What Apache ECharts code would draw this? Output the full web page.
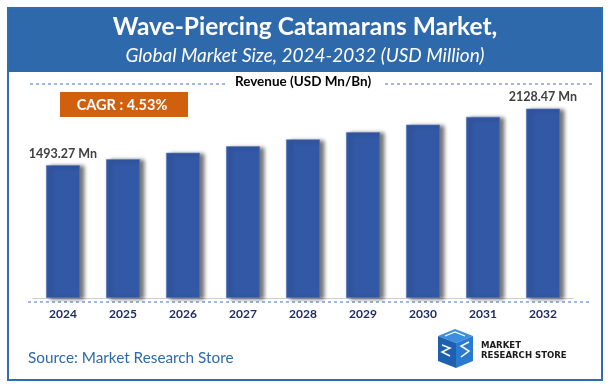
<!DOCTYPE html>
<html>
<head>
<meta charset="utf-8">
<script src="https://cdn.jsdelivr.net/npm/echarts@6/dist/echarts.min.js"></script>
<style>
html,body{margin:0;padding:0;background:#fff;}
#c{width:610px;height:390px;}
</style>
</head>
<body>
<div id="c"></div>
<script>
var years = ['2024','2025','2026','2027','2028','2029','2030','2031','2032'];
var revenue = [1493.27, 1561, 1632, 1705, 1783, 1864, 1948, 2036, 2128.47];
var titleText = 'Wave-Piercing Catamarans Market,';
var subtitleText = 'Global Market Size, 2024-2032 (USD Million)';
var axisTitle = 'Revenue (USD Mn/Bn)';
var cagrText = 'CAGR : 4.53%';
var sourceText = 'Source: Market Research Store';

var FONT = 'Lato, "Open Sans", sans-serif';
var chart = echarts.init(document.getElementById('c'));

var barData = revenue.map(function (v, i) {
  var item = { value: v };
  if (i === 0 || i === revenue.length - 1) {
    item.label = {
      show: true, position: 'top', distance: 5,
      formatter: function (p) { return p.value.toFixed(2) + ' Mn'; },
      color: '#404040', fontWeight: 'bold', fontSize: 12.5, fontFamily: FONT
    };
  }
  return item;
});

chart.setOption({
  animation: false,
  grid: { left: 33, right: 37, top: 80, bottom: 92 },
  xAxis: {
    type: 'category', data: years,
    axisLine: { show: true, lineStyle: { color: '#D0D0D0', width: 1 } },
    axisTick: { show: false },
    axisLabel: { color: '#1F2C66', fontWeight: 'bold', fontSize: 12, fontFamily: FONT, margin: 10 }
  },
  yAxis: { type: 'value', min: 0, max: 2450, show: false, splitLine: { show: false } },
  series: [{
    type: 'bar', data: barData, barWidth: 34,
    itemStyle: {
      color: '#3358A5',
      borderColor: '#5B7EC0', borderWidth: 0.6,
      shadowColor: 'rgba(0,0,0,0.55)', shadowBlur: 4, shadowOffsetX: 4, shadowOffsetY: 1
    }
  }],
  graphic: [
    { type: 'rect', shape: { x: 8, y: 8, width: 594, height: 372 }, style: { fill: 'none', stroke: '#2E6DB4', lineWidth: 2 }, z: 10 },
    { type: 'rect', shape: { x: 8, y: 8, width: 594, height: 64 }, style: { fill: '#2E6AAB' }, z: 9 },
    { type: 'text', x: 305, y: 27, style: { text: titleText, fill: '#fff', font: 'bold 24.5px ' + FONT, textAlign: 'center', textVerticalAlign: 'middle' }, z: 11 },
    { type: 'text', x: 305, y: 56, style: { text: subtitleText, fill: '#fff', font: 'italic 19px ' + FONT, textAlign: 'center', textVerticalAlign: 'middle' }, z: 11 },
    { type: 'line', shape: { x1: 30, y1: 84, x2: 225, y2: 84 }, style: { stroke: '#4472C4', lineWidth: 1, lineDash: [3, 3] } },
    { type: 'line', shape: { x1: 385, y1: 84, x2: 595, y2: 84 }, style: { stroke: '#4472C4', lineWidth: 1, lineDash: [3, 3] } },
    { type: 'text', x: 303, y: 82, style: { text: axisTitle, fill: '#000', font: 'bold 13.5px ' + FONT, textAlign: 'center', textVerticalAlign: 'middle' } },
    { type: 'rect', shape: { x: 60, y: 92, width: 128, height: 25 }, style: { fill: '#D0600E' } },
    { type: 'text', x: 122, y: 105, style: { text: cagrText, fill: '#fff', font: 'bold 14.5px ' + FONT, textAlign: 'center', textVerticalAlign: 'middle' } },
    { type: 'line', shape: { x1: 28, y1: 302, x2: 590, y2: 302 }, style: { stroke: '#4472C4', lineWidth: 1, lineDash: [3, 3] } },
    { type: 'text', x: 28, y: 358, style: { text: sourceText, fill: '#2E6AAB', font: '15.3px ' + FONT, textAlign: 'left', textVerticalAlign: 'middle' } },
    { type: 'polygon', shape: { points: [[438,336],[455,329],[473,336],[456,343]] }, style: { fill: '#3C8FE0' } },
    { type: 'polygon', shape: { points: [[438,336],[456,343],[456,368],[438,361]] }, style: { fill: '#1F5FB0' } },
    { type: 'polygon', shape: { points: [[456,343],[473,336],[473,361],[456,368]] }, style: { fill: '#2A7AD0' } },
    { type: 'polyline', shape: { points: [[442,345],[450,348],[442,352],[450,356]] }, style: { stroke: '#fff', lineWidth: 1.5, fill: 'none' } },
    { type: 'polyline', shape: { points: [[469,342],[461,346],[469,351],[461,357]] }, style: { stroke: '#fff', lineWidth: 1.5, fill: 'none' } },
    { type: 'polyline', shape: { points: [[445,336],[455,332],[465,336]] }, style: { stroke: '#fff', lineWidth: 1.2, fill: 'none' } },
    { type: 'text', x: 481, y: 346, style: { text: 'MARKET', fill: '#1A1A1A', font: 'bold 9.5px "DejaVu Sans Condensed", "Liberation Sans Narrow", sans-serif', textAlign: 'left', textVerticalAlign: 'middle' } },
    { type: 'text', x: 481, y: 356, style: { text: 'RESEARCH STORE', fill: '#1A1A1A', font: 'bold 9.5px "DejaVu Sans Condensed", "Liberation Sans Narrow", sans-serif', textAlign: 'left', textVerticalAlign: 'middle' } }
  ]
});
</script>
</body>
</html>
